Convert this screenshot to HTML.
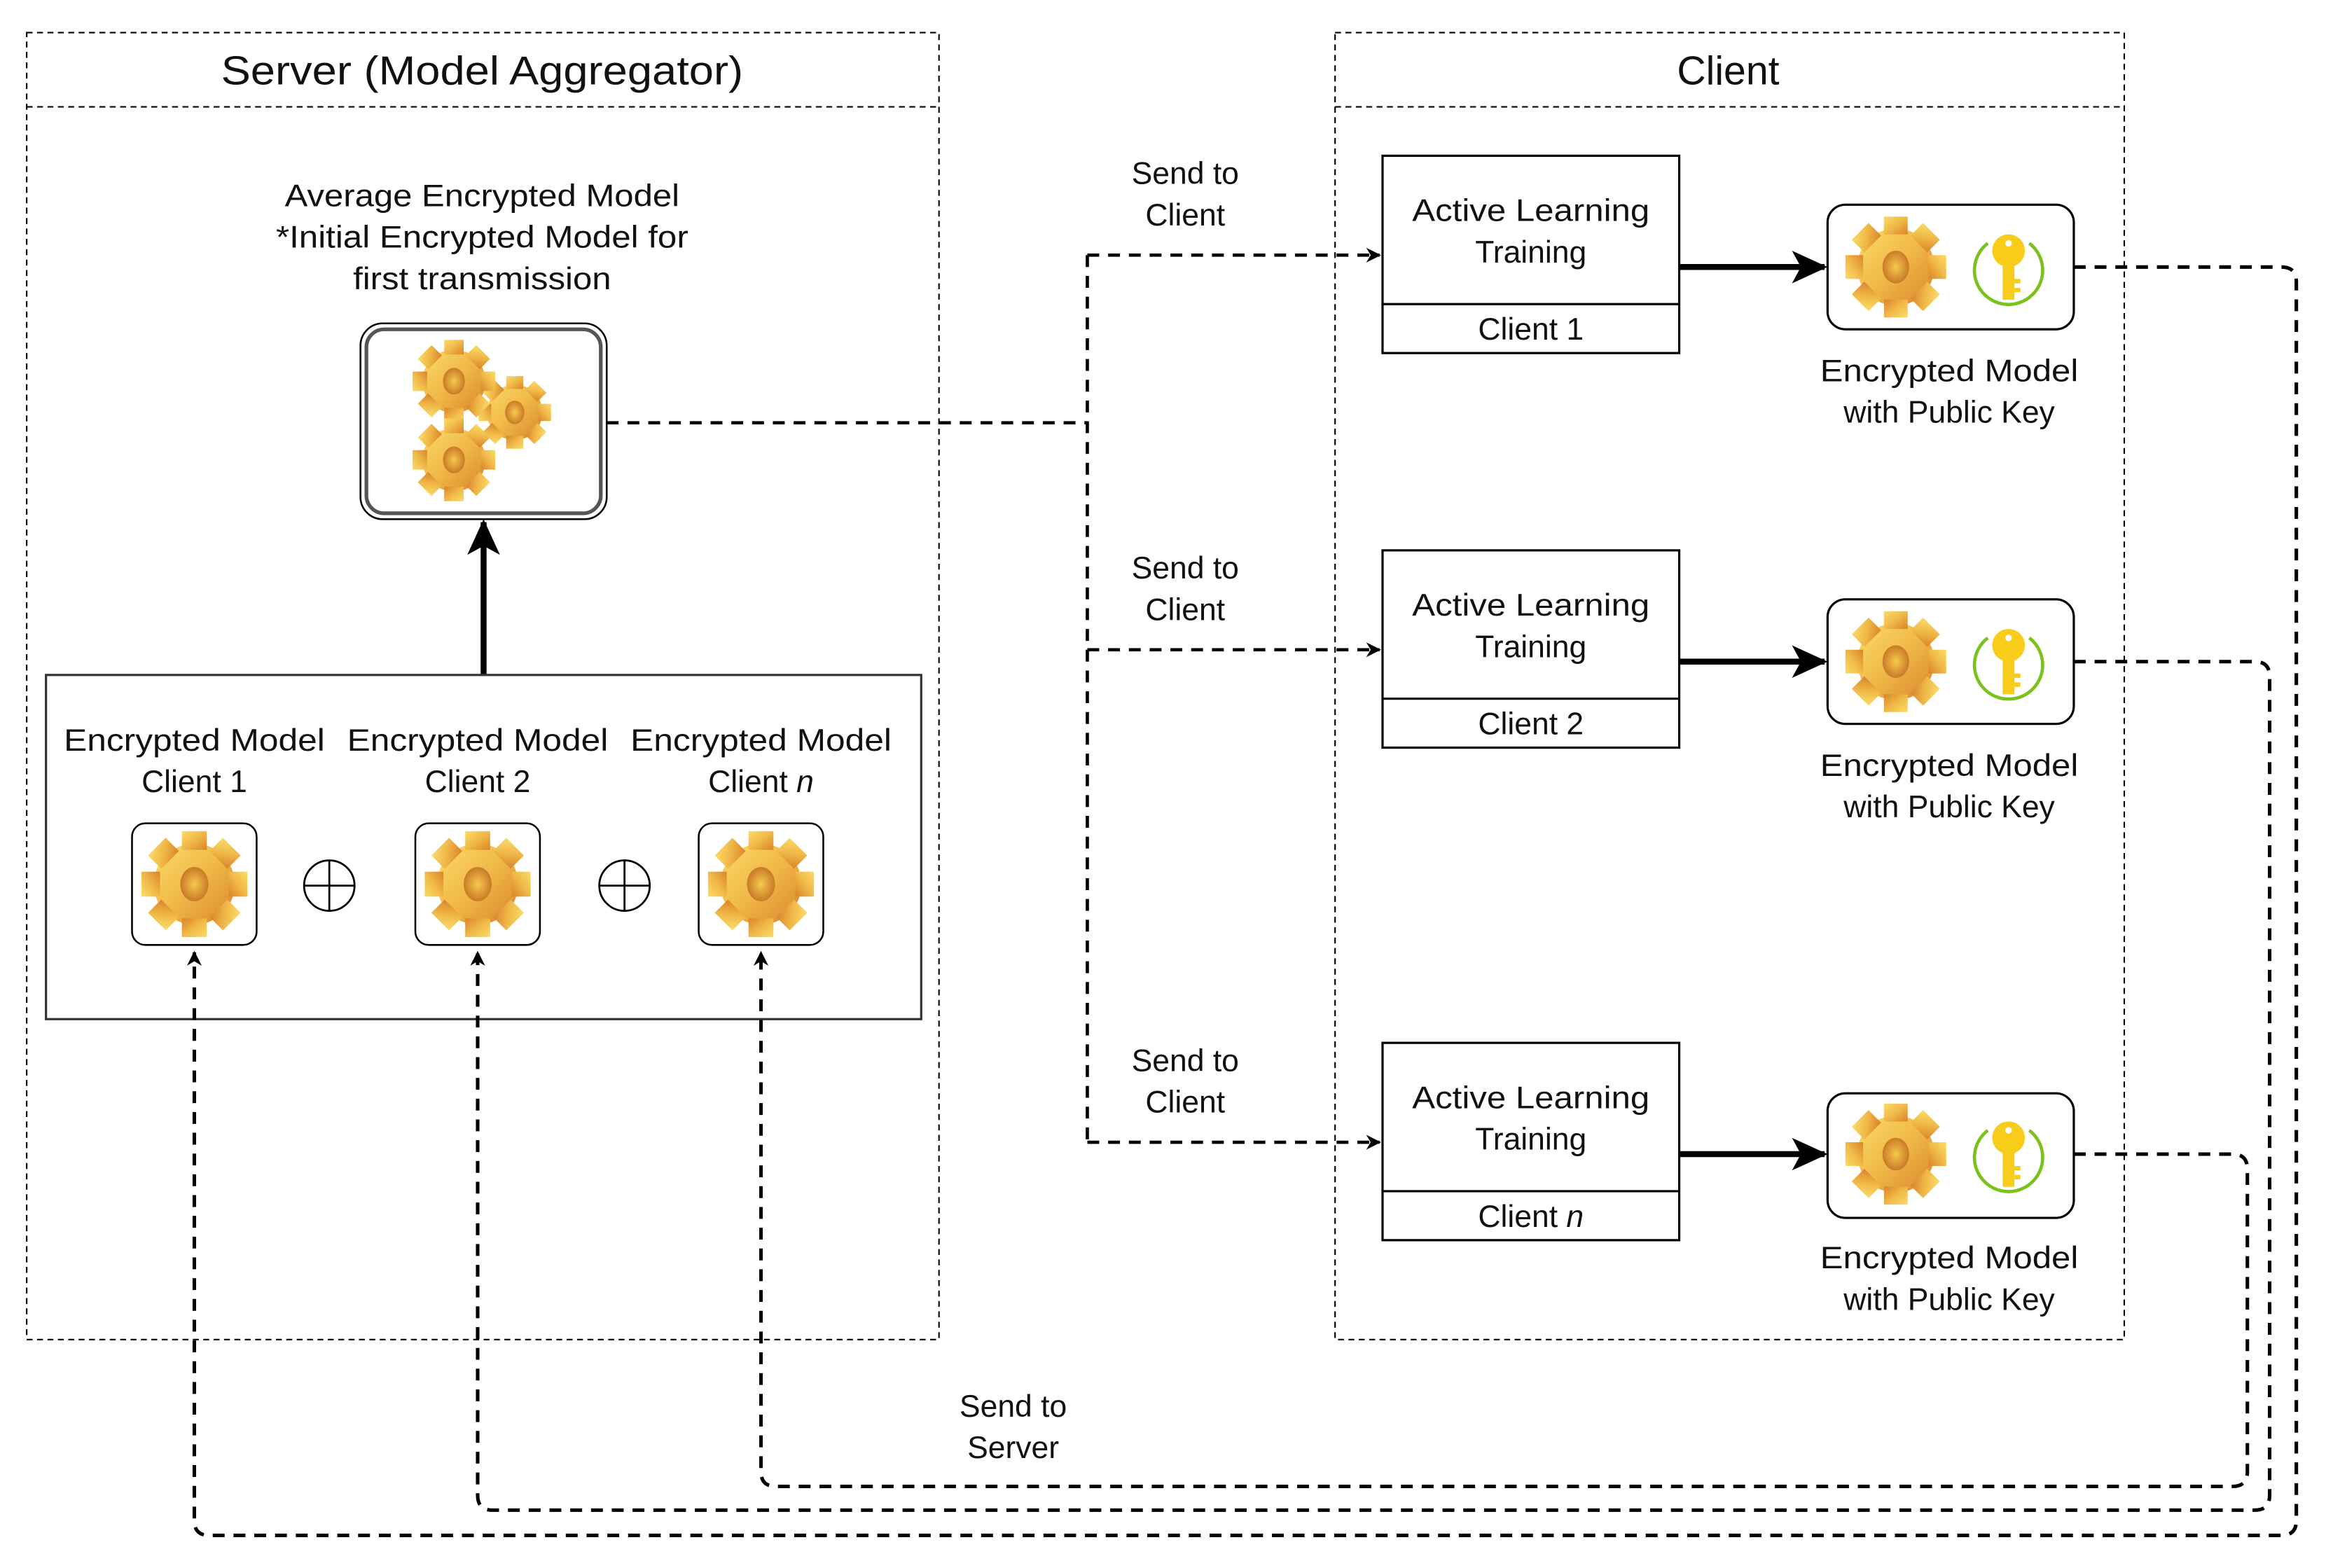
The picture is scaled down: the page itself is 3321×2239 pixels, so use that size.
<!DOCTYPE html>
<html><head><meta charset="utf-8"><style>
html,body{margin:0;padding:0;background:#fff}
svg{display:block}
text{font-family:"Liberation Sans",Arial,sans-serif;fill:#111}
</style></head><body>
<svg width="3321" height="2239" viewBox="0 0 1568 1057" preserveAspectRatio="none" xmlns="http://www.w3.org/2000/svg">
<defs>
<linearGradient id="gg" x1="0" y1="0" x2="1" y2="1">
<stop offset="0" stop-color="#fbdc6a"/><stop offset="0.5" stop-color="#f0b847"/><stop offset="1" stop-color="#d9842c"/>
</linearGradient>
<radialGradient id="hole" cx="0.5" cy="0.5" r="0.5">
<stop offset="0" stop-color="#f7c84e"/><stop offset="1" stop-color="#c97a26"/>
</radialGradient>
<g id="gear">
<g fill="url(#gg)">
<circle r="26"/>
<rect x="-8" y="-34" width="16" height="12" transform="rotate(0)"/>
<rect x="-8" y="-34" width="16" height="12" transform="rotate(45)"/>
<rect x="-8" y="-34" width="16" height="12" transform="rotate(90)"/>
<rect x="-8" y="-34" width="16" height="12" transform="rotate(135)"/>
<rect x="-8" y="-34" width="16" height="12" transform="rotate(180)"/>
<rect x="-8" y="-34" width="16" height="12" transform="rotate(225)"/>
<rect x="-8" y="-34" width="16" height="12" transform="rotate(270)"/>
<rect x="-8" y="-34" width="16" height="12" transform="rotate(315)"/>
</g>
<ellipse rx="9" ry="11" fill="url(#hole)"/>
</g>
<g id="key">
<path d="M -14 -18 A 23 23 0 1 0 14 -18" fill="none" stroke="#7cc21c" stroke-width="2.2"/>
<circle cx="0" cy="-13" r="11" fill="#f7cc1a"/>
<circle cx="0" cy="-18" r="2.2" fill="#fff"/>
<rect x="-4" y="-4" width="8" height="24" fill="#f7cc1a"/>
<path d="M4 6 h4 v3 h-4 z M4 12 h4 v3 h-4 z" fill="#f7cc1a"/>
</g>
<marker id="ad" markerWidth="10" markerHeight="10" refX="9" refY="5" orient="auto" markerUnits="userSpaceOnUse">
<path d="M0,0 L10,5 L0,10 L3,5 z" fill="#000"/>
</marker>
<marker id="at" markerWidth="24" markerHeight="24" refX="22" refY="12" orient="auto" markerUnits="userSpaceOnUse">
<path d="M0,1 L24,12 L0,23 L6,12 z" fill="#000"/>
</marker>
</defs>

<rect x="18" y="22" width="615" height="881" fill="none" stroke="#000" stroke-width="1" stroke-dasharray="4,3"/>
<line x1="18" y1="72" x2="633" y2="72" stroke="#000" stroke-width="1" stroke-dasharray="4,3"/>
<text x="325" y="57" font-size="27" text-anchor="middle" textLength="352" lengthAdjust="spacingAndGlyphs">Server (Model Aggregator)</text>

<rect x="900" y="22" width="532" height="881" fill="none" stroke="#000" stroke-width="1" stroke-dasharray="4,3"/>
<line x1="900" y1="72" x2="1432" y2="72" stroke="#000" stroke-width="1" stroke-dasharray="4,3"/>
<text x="1165" y="57" font-size="27" text-anchor="middle">Client</text>

<g font-size="21" text-anchor="middle">
<text x="325" y="139" textLength="266" lengthAdjust="spacingAndGlyphs">Average Encrypted Model</text>
<text x="325" y="167" textLength="278" lengthAdjust="spacingAndGlyphs">*Initial Encrypted Model for</text>
<text x="325" y="195" textLength="174" lengthAdjust="spacingAndGlyphs">first transmission</text>
</g>
<rect x="243" y="218" width="166" height="132" rx="15" fill="#fff" stroke="#000" stroke-width="1.2"/>
<rect x="247" y="222" width="158" height="124" rx="12" fill="none" stroke="#555" stroke-width="2.5"/>
<use href="#gear" transform="translate(347,278) scale(0.72)"/>
<use href="#gear" transform="translate(306,257) scale(0.82)"/>
<use href="#gear" transform="translate(306,310) scale(0.82)"/>

<line x1="326" y1="455" x2="326" y2="352" stroke="#000" stroke-width="4" marker-end="url(#at)"/>

<rect x="31" y="455" width="590" height="232" fill="#fff" stroke="#333" stroke-width="1.5"/>
<g font-size="21" text-anchor="middle">
<text x="131" y="506" textLength="176" lengthAdjust="spacingAndGlyphs">Encrypted Model</text>
<text x="131" y="534">Client 1</text>
<text x="322" y="506" textLength="176" lengthAdjust="spacingAndGlyphs">Encrypted Model</text>
<text x="322" y="534">Client 2</text>
<text x="513" y="506" textLength="176" lengthAdjust="spacingAndGlyphs">Encrypted Model</text>
<text x="513" y="534">Client <tspan font-style="italic">n</tspan></text>
</g>
<rect x="89" y="555" width="84" height="82" rx="9" fill="#fff" stroke="#000" stroke-width="1.2"/>
<rect x="280" y="555" width="84" height="82" rx="9" fill="#fff" stroke="#000" stroke-width="1.2"/>
<rect x="471" y="555" width="84" height="82" rx="9" fill="#fff" stroke="#000" stroke-width="1.2"/>
<use href="#gear" transform="translate(131,596) scale(1.05)"/>
<use href="#gear" transform="translate(322,596) scale(1.05)"/>
<use href="#gear" transform="translate(513,596) scale(1.05)"/>
<g fill="none" stroke="#000" stroke-width="1.3">
<circle cx="222" cy="597" r="17"/><line x1="205" y1="597" x2="239" y2="597"/><line x1="222" y1="580" x2="222" y2="614"/>
<circle cx="421" cy="597" r="17"/><line x1="404" y1="597" x2="438" y2="597"/><line x1="421" y1="580" x2="421" y2="614"/>
</g>

<g fill="none" stroke="#000" stroke-width="2.2" stroke-dasharray="8,6">
<path d="M409 285 H733"/>
<path d="M733 172 V770"/>
<path d="M733 172 H930" marker-end="url(#ad)"/>
<path d="M733 438 H930" marker-end="url(#ad)"/>
<path d="M733 770 H930" marker-end="url(#ad)"/>
</g>
<g font-size="21" text-anchor="middle">
<text x="799" y="124">Send to</text><text x="799" y="152">Client</text>
<text x="799" y="390">Send to</text><text x="799" y="418">Client</text>
<text x="799" y="722">Send to</text><text x="799" y="750">Client</text>
<text x="683" y="955">Send to</text><text x="683" y="983">Server</text>
</g>

<g fill="#fff" stroke="#000" stroke-width="1.5">
<rect x="932" y="105" width="200" height="133"/><line x1="932" y1="205" x2="1132" y2="205"/>
<rect x="932" y="371" width="200" height="133"/><line x1="932" y1="471" x2="1132" y2="471"/>
<rect x="932" y="703" width="200" height="133"/><line x1="932" y1="803" x2="1132" y2="803"/>
</g>
<g font-size="21" text-anchor="middle">
<text x="1032" y="149" textLength="160" lengthAdjust="spacingAndGlyphs">Active Learning</text><text x="1032" y="177">Training</text><text x="1032" y="229">Client 1</text>
<text x="1032" y="415" textLength="160" lengthAdjust="spacingAndGlyphs">Active Learning</text><text x="1032" y="443">Training</text><text x="1032" y="495">Client 2</text>
<text x="1032" y="747" textLength="160" lengthAdjust="spacingAndGlyphs">Active Learning</text><text x="1032" y="775">Training</text><text x="1032" y="827">Client <tspan font-style="italic">n</tspan></text>
</g>

<g stroke="#000" stroke-width="4">
<line x1="1132" y1="180" x2="1230" y2="180" marker-end="url(#at)"/>
<line x1="1132" y1="446" x2="1230" y2="446" marker-end="url(#at)"/>
<line x1="1132" y1="778" x2="1230" y2="778" marker-end="url(#at)"/>
</g>

<g fill="#fff" stroke="#000" stroke-width="1.5">
<rect x="1232" y="138" width="166" height="84" rx="12"/>
<rect x="1232" y="404" width="166" height="84" rx="12"/>
<rect x="1232" y="737" width="166" height="84" rx="12"/>
</g>
<use href="#gear" transform="translate(1278,180) scale(1.0)"/>
<use href="#gear" transform="translate(1278,446) scale(1.0)"/>
<use href="#gear" transform="translate(1278,778) scale(1.0)"/>
<use href="#key" transform="translate(1354,182)"/>
<use href="#key" transform="translate(1354,448)"/>
<use href="#key" transform="translate(1354,780)"/>
<g font-size="21" text-anchor="middle">
<text x="1314" y="257" textLength="174" lengthAdjust="spacingAndGlyphs">Encrypted Model</text><text x="1314" y="285">with Public Key</text>
<text x="1314" y="523" textLength="174" lengthAdjust="spacingAndGlyphs">Encrypted Model</text><text x="1314" y="551">with Public Key</text>
<text x="1314" y="855" textLength="174" lengthAdjust="spacingAndGlyphs">Encrypted Model</text><text x="1314" y="883">with Public Key</text>
</g>

<g fill="none" stroke="#000" stroke-width="2.4" stroke-dasharray="8,6">
<path d="M1398 180 H1538 Q1548 180 1548 190 V1025 Q1548 1035 1538 1035 H141 Q131 1035 131 1025 V642" marker-end="url(#ad)"/>
<path d="M1398 446 H1520 Q1530 446 1530 456 V1008 Q1530 1018 1520 1018 H332 Q322 1018 322 1008 V642" marker-end="url(#ad)"/>
<path d="M1398 778 H1505 Q1515 778 1515 788 V992 Q1515 1002 1505 1002 H523 Q513 1002 513 992 V642" marker-end="url(#ad)"/>
</g>
</svg>
</body></html>
